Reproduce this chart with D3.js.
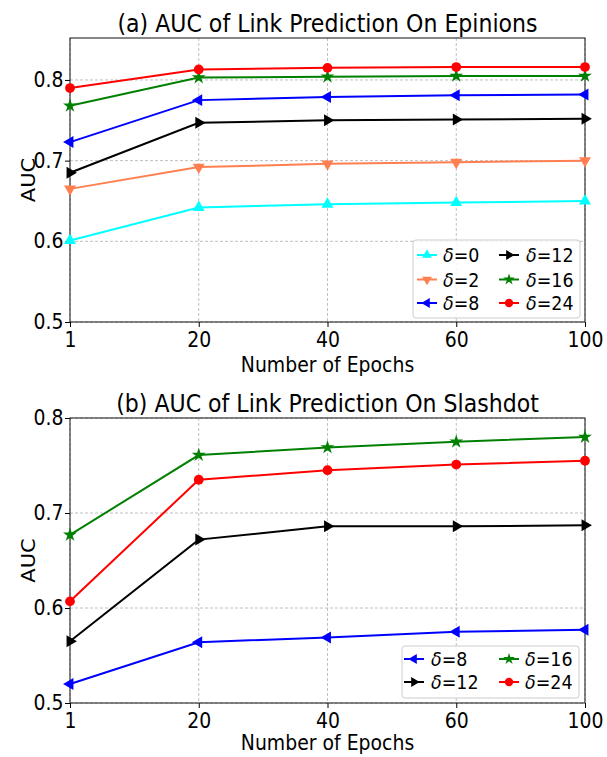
<!DOCTYPE html>
<html><head><meta charset="utf-8">
<script src="https://cdn.jsdelivr.net/npm/d3@7"></script>
<style>body{margin:0;background:#fff}svg{display:block}text{font-family:"DejaVu Sans",sans-serif}</style>
</head><body>
<svg id="c" width="607" height="757"></svg>
<script>
const epochs = ["1","20","40","60","100"];
const yTicks = [0.5,0.6,0.7,0.8];

// Panel (a) Epinions
const epD0  = [0.601,0.642,0.646,0.648,0.650];
const epD2  = [0.665,0.692,0.696,0.698,0.700];
const epD8  = [0.723,0.775,0.779,0.781,0.782];
const epD12 = [0.685,0.747,0.750,0.751,0.752];
const epD16 = [0.768,0.803,0.804,0.805,0.805];
const epD24 = [0.790,0.813,0.815,0.816,0.816];

// Panel (b) Slashdot
const slD8  = [0.520,0.564,0.569,0.575,0.577];
const slD12 = [0.565,0.672,0.686,0.686,0.687];
const slD16 = [0.677,0.761,0.769,0.775,0.780];
const slD24 = [0.607,0.735,0.745,0.751,0.755];

const styles = {
  "0":  {color:"#00ffff", sym:"tri", rot:0},
  "2":  {color:"#ff7f50", sym:"tri", rot:180},
  "8":  {color:"#0000ff", sym:"tri", rot:-90},
  "12": {color:"#000000", sym:"tri", rot:90},
  "16": {color:"#008000", sym:"star", rot:0},
  "24": {color:"#ff0000", sym:"circle", rot:0}
};

const panels = [
  {title:"(a) AUC of Link Prediction On Epinions", top:38, bottom:322, ymax:0.852, xlabOff:50,
   series:[["0",epD0],["2",epD2],["8",epD8],["12",epD12],["16",epD16],["24",epD24]],
   legendOrder:[["0",0,0],["2",0,1],["8",0,2],["12",1,0],["16",1,1],["24",1,2]],
   legendBox:[413,240,167,78], col:[417,499], textX:[443,526], rows:[255,279.5,303]},
  {title:"(b) AUC of Link Prediction On Slashdot", top:418, bottom:703, ymax:0.8, xlabOff:47,
   series:[["8",slD8],["12",slD12],["16",slD16],["24",slD24]],
   legendOrder:[["8",0,0],["12",0,1],["16",1,0],["24",1,1]],
   legendBox:[402,646,177,52], col:[404,499], textX:[431,525], rows:[659,682]}
];

const SX = 0.92;
const svg = d3.select("#c");
const left = 70, right = 585;
const x = d3.scalePoint().domain(epochs).range([left,right]).padding(0);

function symPath(key, size){
  const s = styles[key];
  const t = s.sym==="tri" ? d3.symbolTriangle : s.sym==="star" ? d3.symbolStar : d3.symbolCircle;
  return d3.symbol().type(t).size(size)();
}
function txt(g, tx, ty, size, anchor, str, rot){
  return g.append("text")
    .attr("transform",`translate(${tx},${ty}) scale(${SX},1)` + (rot?` rotate(${rot})`:""))
    .attr("text-anchor",anchor).attr("font-size",size).text(str);
}

panels.forEach(p => {
  const y = d3.scaleLinear().domain([0.5,p.ymax]).range([p.bottom,p.top]);
  const g = svg.append("g");
  // grid
  g.selectAll(".gx").data(epochs).enter().append("line")
    .attr("x1",d=>x(d)).attr("x2",d=>x(d)).attr("y1",p.top).attr("y2",p.bottom)
    .attr("stroke","#b0b0b0").attr("stroke-width",0.8).attr("stroke-dasharray","3,2");
  g.selectAll(".gy").data(yTicks).enter().append("line")
    .attr("x1",left).attr("x2",right).attr("y1",d=>y(d)).attr("y2",d=>y(d))
    .attr("stroke","#b0b0b0").attr("stroke-width",0.8).attr("stroke-dasharray","3,2");
  // axes
  const xa = g.append("g").attr("transform",`translate(0,${p.bottom})`)
    .call(d3.axisBottom(x).tickSize(5).tickPadding(5));
  const ya = g.append("g").attr("transform",`translate(${left},0)`)
    .call(d3.axisLeft(y).tickValues(yTicks).tickFormat(d3.format(".1f")).tickSize(5).tickPadding(2));
  [xa,ya].forEach(a=>{
    a.select(".domain").remove();
    a.selectAll("text").attr("font-size",20.5).attr("fill","#000").style("font-family","DejaVu Sans")
      .attr("transform",`scale(${SX},1)`);
    a.selectAll("line").attr("stroke","#000");
  });
  g.append("rect").attr("x",left).attr("y",p.top).attr("width",right-left).attr("height",p.bottom-p.top)
    .attr("fill","none").attr("stroke","#111").attr("stroke-width",1);
  // series
  const line = d3.line().x((d,i)=>x(epochs[i])).y(d=>y(d));
  p.series.forEach(([k,vals])=>{
    const st = styles[k];
    g.append("path").datum(vals).attr("d",line).attr("fill","none")
      .attr("stroke",st.color).attr("stroke-width",2);
    g.selectAll(null).data(vals).enter().append("path")
      .attr("d",symPath(k, st.sym==="circle"?75:st.sym==="star"?60:62))
      .attr("transform",(d,i)=>`translate(${x(epochs[i])},${y(d)}) rotate(${st.rot})`)
      .attr("fill",st.color);
  });
  // title
  txt(g,(left+right)/2,p.top-6.5,24,"middle",p.title);
  // axis labels
  txt(g,(left+right)/2,p.bottom+p.xlabOff,20.5,"middle","Number of Epochs");
  txt(g,35,(p.top+p.bottom)/2,21,"middle","AUC",-90);
  // legend
  const [bx,by,bw,bh] = p.legendBox;
  g.append("rect").attr("x",bx).attr("y",by).attr("width",bw).attr("height",bh)
    .attr("rx",3).attr("fill","rgba(255,255,255,0.8)").attr("stroke","#cccccc");
  p.legendOrder.forEach(([k,c,r])=>{
    const st = styles[k];
    const hx = p.col[c], hy = p.rows[r];
    g.append("line").attr("x1",hx).attr("x2",hx+20).attr("y1",hy).attr("y2",hy)
      .attr("stroke",st.color).attr("stroke-width",2);
    g.append("path").attr("d",symPath(k, st.sym==="circle"?55:42))
      .attr("transform",`translate(${hx+10},${hy}) rotate(${st.rot})`).attr("fill",st.color);
    const t = g.append("text").attr("transform",`translate(${p.textX[c]},${hy+7}) scale(${SX},1)`)
      .attr("font-size",19);
    t.append("tspan").attr("font-style","italic").text("δ");
    t.append("tspan").text("="+k);
  });
});
</script>
</body></html>
